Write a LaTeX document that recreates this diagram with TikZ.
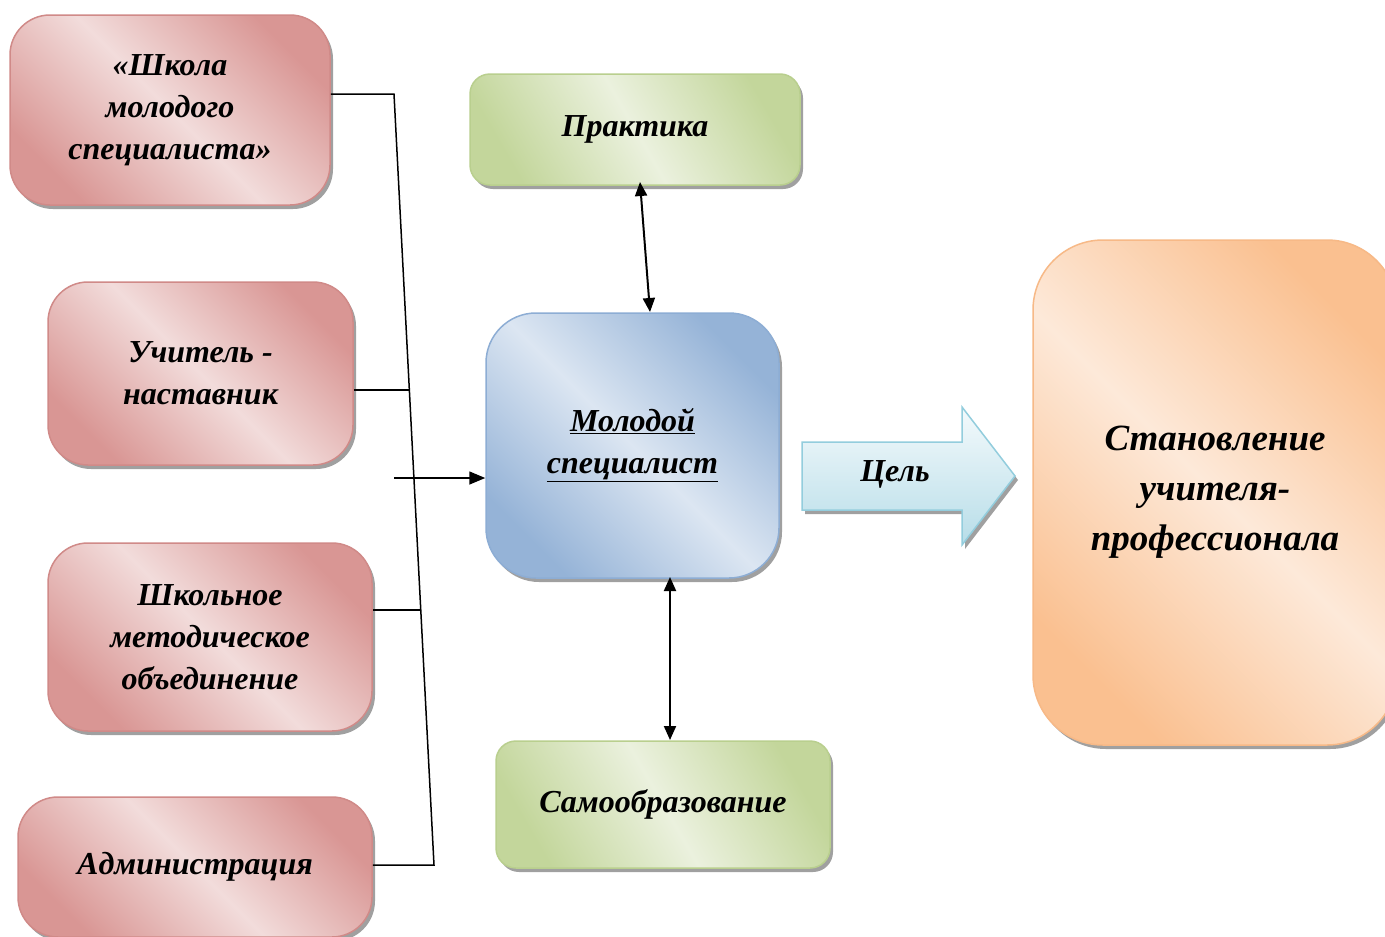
\documentclass[tikz,border=0pt]{standalone}
\usepackage{fontspec}
\setmainfont{Liberation Serif}
\usetikzlibrary{shadows,arrows.meta}
\definecolor{rdark}{HTML}{D99694}
\definecolor{rlight}{HTML}{F2DCDB}
\definecolor{rline}{HTML}{D08A88}
\definecolor{gdark}{HTML}{C3D69B}
\definecolor{glight}{HTML}{EBF1DE}
\definecolor{gline}{HTML}{B9CF8E}
\definecolor{bdark}{HTML}{95B3D7}
\definecolor{blight}{HTML}{DCE6F2}
\definecolor{bline}{HTML}{8DADD4}
\definecolor{odark}{HTML}{FAC090}
\definecolor{olight}{HTML}{FDE9D9}
\definecolor{oline}{HTML}{F7B987}
\definecolor{cdark}{HTML}{B7DDE8}
\definecolor{clight}{HTML}{F4FAFC}
\definecolor{cline}{HTML}{93CDDD}
\definecolor{shad}{HTML}{A0A0A0}
\begin{document}
\begin{tikzpicture}[x=1pt,y=-1pt,
  txt/.style={font=\fontsize{32}{42}\selectfont\bfseries\itshape, align=center, text=black},
  sh/.style={drop shadow={shadow xshift=3pt, shadow yshift=-4pt, fill=shad, opacity=1}},
  redbox/.style={txt, sh, draw=rline, line width=1.5pt, rounded corners=40pt,
     top color=rdark, bottom color=rdark, middle color=rlight, shading angle=-45},
  greenbox/.style={txt, sh, draw=gline, line width=1.5pt, rounded corners=20pt,
     top color=gdark, bottom color=gdark, middle color=glight, shading angle=-60},
  bluebox/.style={txt, sh, draw=bline, line width=1.5pt, rounded corners=50pt,
     top color=bdark, bottom color=bdark, middle color=blight, shading angle=-45},
  orangebox/.style={txt, font=\fontsize{37}{50}\selectfont\bfseries\itshape, sh, draw=oline, line width=1.5pt, rounded corners=70pt,
     top color=odark, bottom color=odark, middle color=olight, shading angle=-45},
  conn/.style={line width=1.5pt, black},
  dbl/.style={line width=2pt, black, {Triangle[length=14pt,width=12pt]}-{Triangle[length=14pt,width=12pt]}},
]
\clip (0,0) rectangle (1385,937);
\fill[white] (0,0) rectangle (1385,937);

% left red boxes
\node[redbox, minimum width=320pt, minimum height=190pt] (a) at (170,110) {«Школа\\молодого\\специалиста»};
\node[redbox, minimum width=305pt, minimum height=183pt] (b) at (200.5,373.5) {Учитель -\\наставник};
\node[redbox, minimum width=324pt, minimum height=188pt] (c) at (210,637) {Школьное\\методическое\\объединение};
\node[redbox, minimum width=354pt, minimum height=140pt] (d) at (195,867) {Администрация};

% centre column
\node[greenbox, minimum width=330pt, minimum height=111pt] (p) at (635,129.5) {Практика};
\node[bluebox, minimum width=293pt, minimum height=265pt] (m) at (632.5,445.5) {\underline{Молодой}\\\underline{специалист}};
\node[greenbox, minimum width=334pt, minimum height=127pt] (s) at (663,804.5) {Самообразование};

% right orange box
\node[orangebox, minimum width=364pt, minimum height=505pt] (r) at (1215,492.5) {Становление\\учителя-\\профессионала};

% arrow "Цель"
\path[sh, draw=cline, line width=1.5pt, top color=clight, bottom color=cdark]
  (802,442) -- (962,442) -- (962,407) -- (1015,476) -- (962,545) -- (962,510) -- (802,510) -- cycle;
\node[txt] (goal) at (895,474) {Цель};

% connectors on the left
\coordinate (j1) at (394,94);
\coordinate (j2) at (409.4,390);
\coordinate (j3) at (420.8,610);
\coordinate (j4) at (434,865);
\coordinate (in) at (394,478);
\draw[conn] (a.east |- j1) -- (j1) -- (j4) -- (d.east |- j4);
\draw[conn] (b.east |- j2) -- (j2);
\draw[conn] (c.east |- j3) -- (j3);
\draw[conn, -{Triangle[length=16pt,width=13pt]}] (in) -- (m.west |- in);

% double arrows
\coordinate (pa) at (640,182);
\coordinate (ma) at (650,312);
\draw[dbl] (pa) -- (ma);
\coordinate (mb) at (670,577);
\coordinate (sb) at (670,740);
\draw[dbl] (mb) -- (sb);
\end{tikzpicture}
\end{document}
